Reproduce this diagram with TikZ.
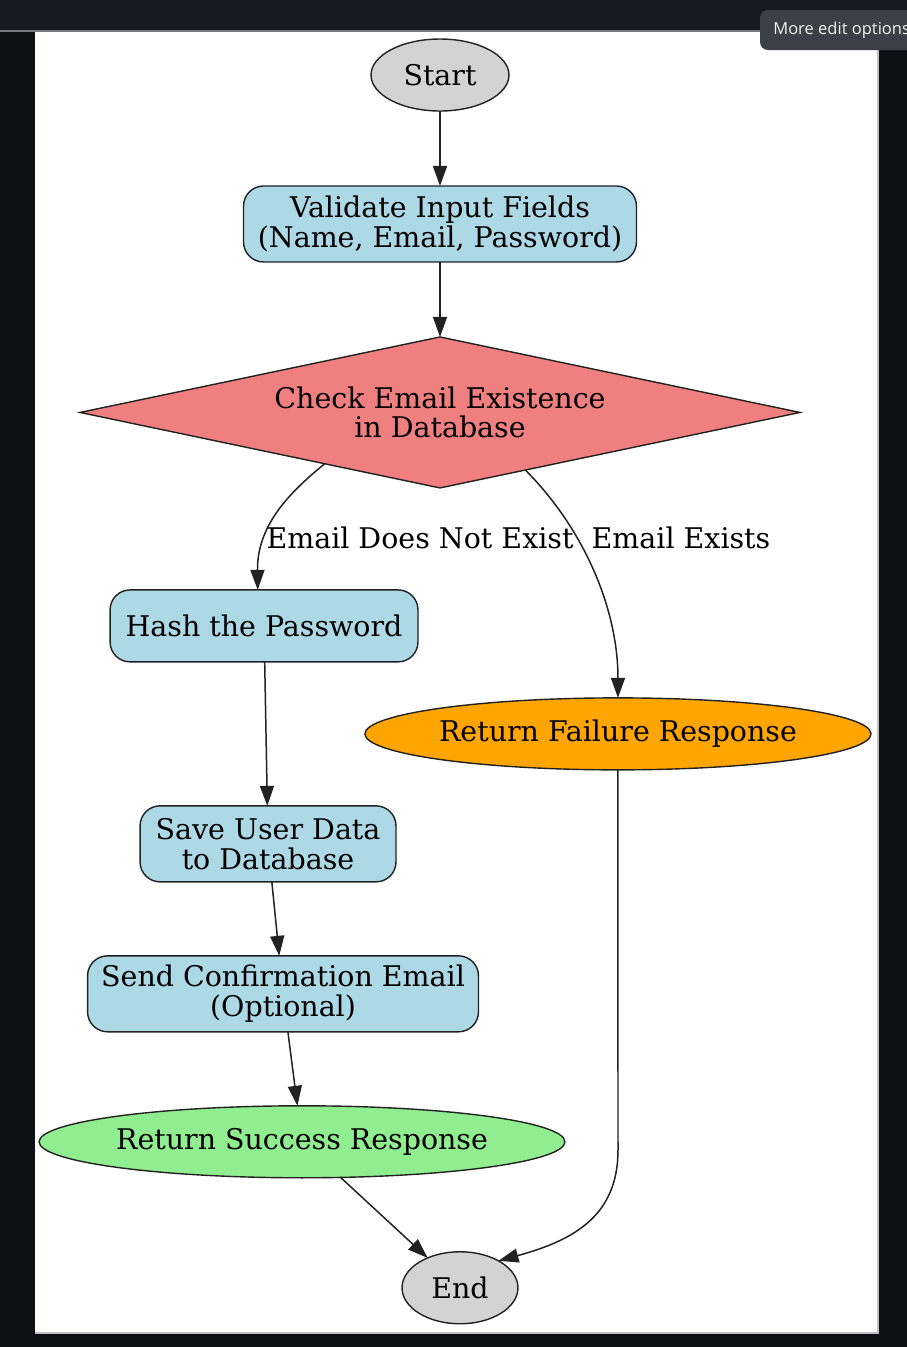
\documentclass[tikz,border=0pt]{standalone}
\usepackage{fontspec}
\setmainfont{DejaVu Serif}
\newfontfamily\uifont{Open Sans}
\usetikzlibrary{arrows.meta,positioning,shapes.geometric}
\definecolor{topbar}{HTML}{161B23}
\definecolor{sidebar}{HTML}{0D1017}
\definecolor{tipgray}{HTML}{3B4048}
\definecolor{nodeline}{HTML}{222222}
\definecolor{boxblue}{HTML}{ADD8E6}
\definecolor{checkred}{HTML}{F08080}
\definecolor{endgray}{HTML}{D3D3D3}
\definecolor{failorange}{HTML}{FFA500}
\definecolor{okgreen}{HTML}{90EE90}
\newcommand{\flowfont}{\fontsize{16.2}{17}\selectfont}
\tikzset{
    box/.style={rectangle,rounded corners=0.4cm,draw=nodeline,line width=0.8pt,fill=boxblue,inner sep=0pt,outer sep=0pt,align=center,font=\flowfont},
    oval/.style={ellipse,draw=nodeline,line width=0.8pt,inner sep=0pt,outer sep=0pt,font=\flowfont},
    test/.style={diamond,aspect=4.77,draw=nodeline,line width=0.8pt,fill=checkred,inner sep=0pt,outer sep=0pt,align=center,font=\flowfont},
    flow/.style={-{Triangle[length=0.4cm,width=0.28cm]},line width=0.85pt,draw=nodeline},
    tag/.style={inner sep=0pt,font=\flowfont}
}

\begin{document}
\begin{tikzpicture}[x=0.02cm,y=-0.02cm]

    % frame of the screenshot
    \useasboundingbox (0,0) rectangle (907,1347);
    \clip (0,0) rectangle (907,1347);
    \fill[sidebar] (0,0) rectangle (907,1347);
    \fill[topbar] (0,0) rectangle (907,31);
    \draw[tipgray!70,line width=0.6pt] (0,31) -- (907,31);
    \fill[white] (35,32) rectangle (877,1332);
    \draw[black!25,line width=1pt] (878,32) -- (878,1333) -- (35,1333);
    \fill[tipgray,rounded corners=0.16cm] (760,10) rectangle (940,50);
    \node[anchor=west,text=white!94!black,font=\uifont\fontsize{9.4}{11}\selectfont,inner sep=0pt] (tip) at (773,30) {More edit options};

    % nodes
    \node[oval,fill=endgray,minimum width=2.76cm,minimum height=1.44cm] (start) at (440,75) {Start};
    \node[box,minimum width=7.86cm,minimum height=1.52cm] (validate) [below=1.5cm of start] {Validate Input Fields\\(Name, Email, Password)};
    \node[test,minimum width=14.4cm,minimum height=3.02cm] (check) [below=1.5cm of validate] {Check Email Existence\\in Database};

    \node[box,minimum width=6.16cm,minimum height=1.44cm] (hash) [below=2.04cm of check, xshift=-3.52cm] {Hash the Password};
    \node[oval,fill=failorange,minimum width=10.08cm,minimum height=1.44cm] (failure) [below=4.2cm of check, xshift=3.56cm] {Return Failure Response};
    \node[box,minimum width=5.12cm,minimum height=1.52cm] (save) [below=2.88cm of hash, xshift=0.08cm] {Save User Data\\to Database};
    \node[box,minimum width=7.82cm,minimum height=1.52cm] (send) [below=1.48cm of save, xshift=0.3cm] {Send Confirmation Email\\(Optional)};
    \node[oval,fill=okgreen,minimum width=10.4cm,minimum height=1.44cm] (success) [below=1.48cm of send, xshift=0.38cm] {Return Success Response};
    \node[oval,fill=endgray,minimum width=2.32cm,minimum height=1.44cm] (end) [below=1.48cm of success, xshift=3.16cm] {End};

    % edges
    \draw[flow] (start) -- (validate);
    \draw[flow] (validate) -- (check);
    \draw[flow] (check.-156) .. controls (290,492) and (257,525) .. (hash.100);
    \draw[flow] (check.-34) .. controls (585,530) and (618,610) .. (failure.north);
    \draw[flow] (hash) -- (save);
    \draw[flow] (save) -- (send);
    \draw[flow] (send) -- (success);
    \draw[flow] (success) -- (end);
    \draw[flow] (failure.south) -- (618,1150) .. controls (618,1215) and (575,1240) .. (end.35);

    % edge labels
    \node[tag] (notexist) at (420,538) {Email Does Not Exist};
    \node[tag] (exists) at (681,538) {Email Exists};

\end{tikzpicture}
\end{document}
